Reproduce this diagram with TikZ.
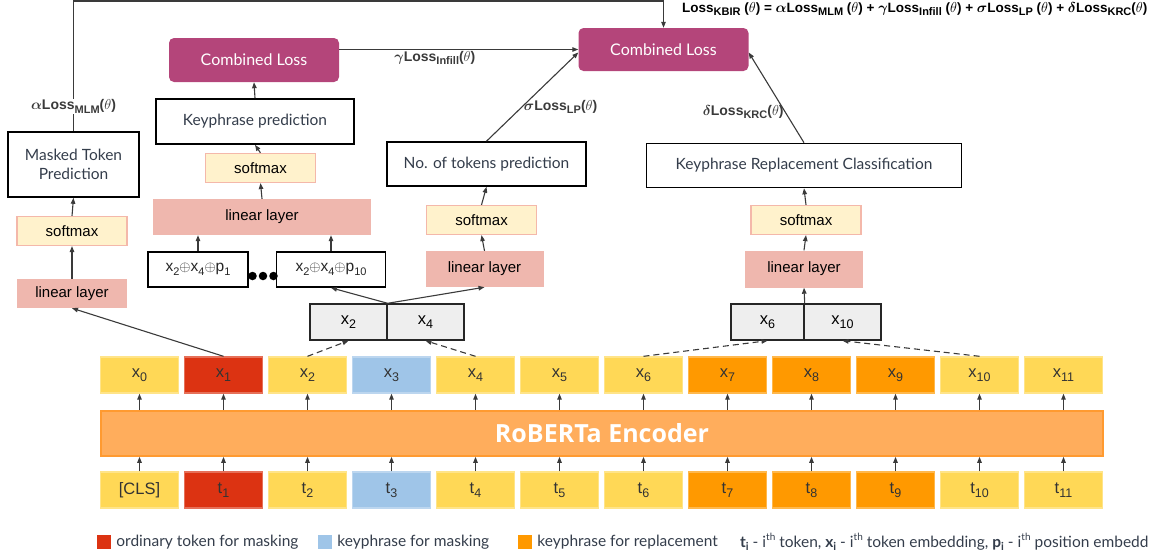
\documentclass[tikz,border=0pt]{standalone}
\usepackage{fontspec}
\usepackage{amsmath,bm}
\setmainfont{Liberation Sans}
\newfontfamily\slidefont{Lato}
\newfontfamily\headfont{Open Sans}
\usetikzlibrary{calc}
\usetikzlibrary{positioning}
\usetikzlibrary{arrows.meta}

\definecolor{tokyellow}{HTML}{FFD856}
\definecolor{tokred}{HTML}{DC3312}
\definecolor{tokblue}{HTML}{9FC5E8}
\definecolor{tokorange}{HTML}{FF9900}
\definecolor{encfill}{HTML}{FFAD5C}
\definecolor{encedge}{HTML}{FF9A30}
\definecolor{linfill}{HTML}{EFB7AE}
\definecolor{smfill}{HTML}{FFF2CC}
\definecolor{smedge}{HTML}{F4B8AA}
\definecolor{lossfill}{HTML}{B4457A}
\definecolor{cellgray}{HTML}{EEEEEE}
\definecolor{inkgray}{HTML}{3A3A3A}
\definecolor{slidetext}{HTML}{343D4B}

\newcommand{\lsub}[1]{\raisebox{-0.45ex}{\fontsize{11}{11}\selectfont #1}}
\newcommand{\tsub}[1]{\raisebox{-0.45ex}{\fontsize{12.5}{12}\selectfont #1}}
\newcommand{\lsup}[1]{\raisebox{0.8ex}{\fontsize{10}{10}\selectfont #1}}

\tikzset{>={Triangle[length=6pt,width=4.5pt]},
  every edge/.style={draw, ->, inkgray, line width=1.1pt},
  hint/.style={dash pattern=on 6pt off 4pt}, % dashed pick-up arrows
  plain/.style={ % white outlined boxes
    draw=black, line width=1.6pt, fill=white, text=slidetext,
    font=\slidefont\fontsize{15.5}{19}\selectfont, align=center, inner sep=0pt},
  lossbox/.style={ % combined losses
    fill=lossfill, rounded corners=5pt, text=white, inner sep=0pt,
    minimum width=170pt, minimum height=44pt,
    font=\slidefont\fontsize{16}{19}\selectfont},
  linear/.style={fill=linfill, inner sep=0pt, font=\fontsize{15}{18}\selectfont},
  soft/.style={fill=smfill, draw=smedge, line width=1.2pt, inner sep=0pt,
    minimum width=110pt, minimum height=29pt, font=\fontsize{15}{18}\selectfont},
  cell/.style={fill=cellgray, draw=black!85, line width=1.4pt, inner sep=0pt,
    minimum height=36pt, font=\fontsize{16.5}{18}\selectfont},
  token/.style={inner sep=0pt, minimum width=78pt, minimum height=36pt,
    line width=1.4pt, text=black!80, font=\fontsize{16.5}{18}\selectfont},
  lossnote/.style={font=\bfseries\fontsize{14}{16}\selectfont, inner sep=1pt},
  keysq/.style={inner sep=0pt, minimum size=14pt},
  keytext/.style={inner sep=0pt, text=slidetext, font=\slidefont\fontsize{15.5}{18}\selectfont},
  dot/.style={circle, fill=black, inner sep=0pt, minimum size=8.5pt}}

\begin{document}
\begin{tikzpicture}[x=1pt,y=-1pt]
  \useasboundingbox (0,0) rectangle (1150,558);

  % token rows and encoder
  \node [fill=encfill, draw=encedge, line width=1.6pt, minimum width=1002pt,
    minimum height=45pt, text=white, font=\headfont\bfseries\fontsize{25}{28}\selectfont]
    (enc) at (602,433.5) {RoBERTa Encoder};
  \foreach \i/\c in {0/tokyellow,1/tokred,2/tokyellow,3/tokblue,4/tokyellow,5/tokyellow,
      6/tokyellow,7/tokorange,8/tokorange,9/tokorange,10/tokyellow,11/tokyellow} {
    \node [token, fill=\c, draw=\c!70!white] (x\i) at (139.5+84*\i,375) {x\tsub{\i}};
    \node [token, fill=\c, draw=\c!70!white] (t\i) at (139.5+84*\i,490)
      {\ifnum\i=0 [CLS]\else t\tsub{\i}\fi};
    \draw (x\i |- enc.north) edge (x\i.south);
    \draw (t\i.north) edge (t\i |- enc.south);
  }

  % masked token branch
  \node [linear, minimum width=110pt, minimum height=29pt] (linl) at (72,293.5) {linear layer};
  \node [soft] (sml) at (72,231) {softmax};
  \node [plain, minimum width=131pt, minimum height=65pt] (mtp) at (73.5,164.5)
    {Masked Token\\Prediction};
  \draw (x1.north) edge (linl.south);
  \draw (linl.north) edge (sml.south);
  \draw (sml.north) edge (mtp.south);

  % infilling branch
  \node [cell, minimum width=77pt] (c2) at (348.5,322) {x\tsub{2}};
  \node [cell, minimum width=77pt] (c4) at (425.5,322) {x\tsub{4}};
  \node [plain, minimum width=100pt, minimum height=35pt, text=black!85,
    font=\fontsize{15.5}{18}\selectfont] (p1) at (198,269.5)
    {x\lsub{2}$\oplus$x\lsub{4}$\oplus$p\lsub{1}};
  \node [plain, minimum width=109pt, minimum height=35pt, text=black!85,
    font=\fontsize{15.5}{18}\selectfont] (p10) at (331,269.5)
    {x\lsub{2}$\oplus$x\lsub{4}$\oplus$p\lsub{10}};
  \foreach \d in {0,1,2}
    \node [dot] (dot\d) at (252.5+10.5*\d,276) {};
  \node [linear, minimum width=218pt, minimum height=36pt] (linw) at (262,217) {linear layer};
  \node [soft] (smw) at (260.5,168) {softmax};
  \node [plain, minimum width=198pt, minimum height=45pt] (kp) at (255,121.5)
    {Keyphrase prediction};
  \node [lossbox] (cl1) at (254,60) {Combined Loss};
  \draw (x2.north) edge [hint] (c2.south);
  \draw (x4.north) edge [hint] (c4.south);
  \draw (c2.north east) edge (p10.south);
  \draw (p1.north) edge (p1.north |- linw.south);
  \draw (p10.north) edge (p10.north |- linw.south);
  \draw (linw.north) edge (smw.south);
  \draw (smw.north) edge (kp.south);
  \draw (kp.north) edge (cl1.south);

  % length prediction branch
  \node [linear, minimum width=118pt, minimum height=36pt] (linm) at (484.5,269) {linear layer};
  \node [soft] (smm) at (481.5,220) {softmax};
  \node [plain, minimum width=199pt, minimum height=44pt] (ntp) at (486.5,164)
    {No. of tokens prediction};
  \draw (c2.north east) edge (linm.south);
  \draw (linm.north) edge (smm.south);
  \draw (smm.north) edge (ntp.south);

  % replacement branch
  \node [cell, minimum width=73pt] (c6) at (767.5,322) {x\tsub{6}};
  \node [cell, minimum width=77pt] (c10) at (842.5,322) {x\tsub{10}};
  \node [linear, minimum width=118pt, minimum height=37pt] (linr) at (804,269) {linear layer};
  \node [soft] (smr) at (806,220) {softmax};
  \node [plain, minimum width=315pt, minimum height=44pt] (krc) at (804,165.5)
    {Keyphrase Replacement Classification};
  \draw (x6.north) edge [hint] (c6.south);
  \draw (x10.north) edge [hint] (c10.south);
  \draw (c6.north east) edge (linr.south);
  \draw (linr.north) edge (smr.south);
  \draw (smr.north) edge (krc.south);

  % combined loss
  \node [lossbox, minimum height=43pt] (clm) at (663.5,49.5) {Combined Loss};
  \coordinate (fb) at (73.5,1);
  \draw [->, inkgray, line width=1.1pt] (mtp.north) --
    node [lossnote, fill=white, pos=0.19] {$\bm\alpha$Loss\lsub{MLM}($\theta$)}
    (fb) -| (clm.north);
  \draw [->, inkgray, line width=1.1pt] (cl1.east |- clm.west) --
    node [lossnote, below, pos=0.4] {$\bm\gamma$Loss\lsub{Infill}($\theta$)} (clm.west);
  \draw [->, inkgray, line width=1.1pt] (ntp.north) --
    node [lossnote, right, pos=0.39] {$\bm\sigma$Loss\lsub{LP}($\theta$)} (clm.182);
  \draw [->, inkgray, line width=1.1pt] (krc.north) --
    node [lossnote, left, pos=0.34] {$\bm\delta$Loss\lsub{KRC}($\theta$)} (clm.-2);
  \node [lossnote, anchor=west, font=\bfseries\fontsize{13.5}{15}\selectfont] (kbir) at (681,9)
    {Loss\lsub{KBIR} ($\theta$) = $\bm\alpha$Loss\lsub{MLM} ($\theta$) +
     $\bm\gamma$Loss\lsub{Infill} ($\theta$) + $\bm\sigma$Loss\lsub{LP} ($\theta$) +
     $\bm\delta$Loss\lsub{KRC}($\theta$)};

  % legend
  \node [keysq, fill=tokred] (kred) at (104,542) {};
  \node [keytext, right=5pt of kred] (lred) {ordinary token for masking};
  \node [keysq, fill=tokblue] (kblue) at (325,542) {};
  \node [keytext, right=5pt of kblue] (lblue) {keyphrase for masking};
  \node [keysq, fill=tokorange] (korange) at (525,542) {};
  \node [keytext, right=5pt of korange] (lorange) {keyphrase for replacement};
  \node [keytext, anchor=west] (lnote) at (740,542)
    {\textbf{t}\lsub{\textbf{i}} - i\lsup{th} token, \textbf{x}\lsub{\textbf{i}} - i\lsup{th}
     token embedding, \textbf{p}\lsub{\textbf{i}} - i\lsup{th} position embedd};
\end{tikzpicture}
\end{document}
